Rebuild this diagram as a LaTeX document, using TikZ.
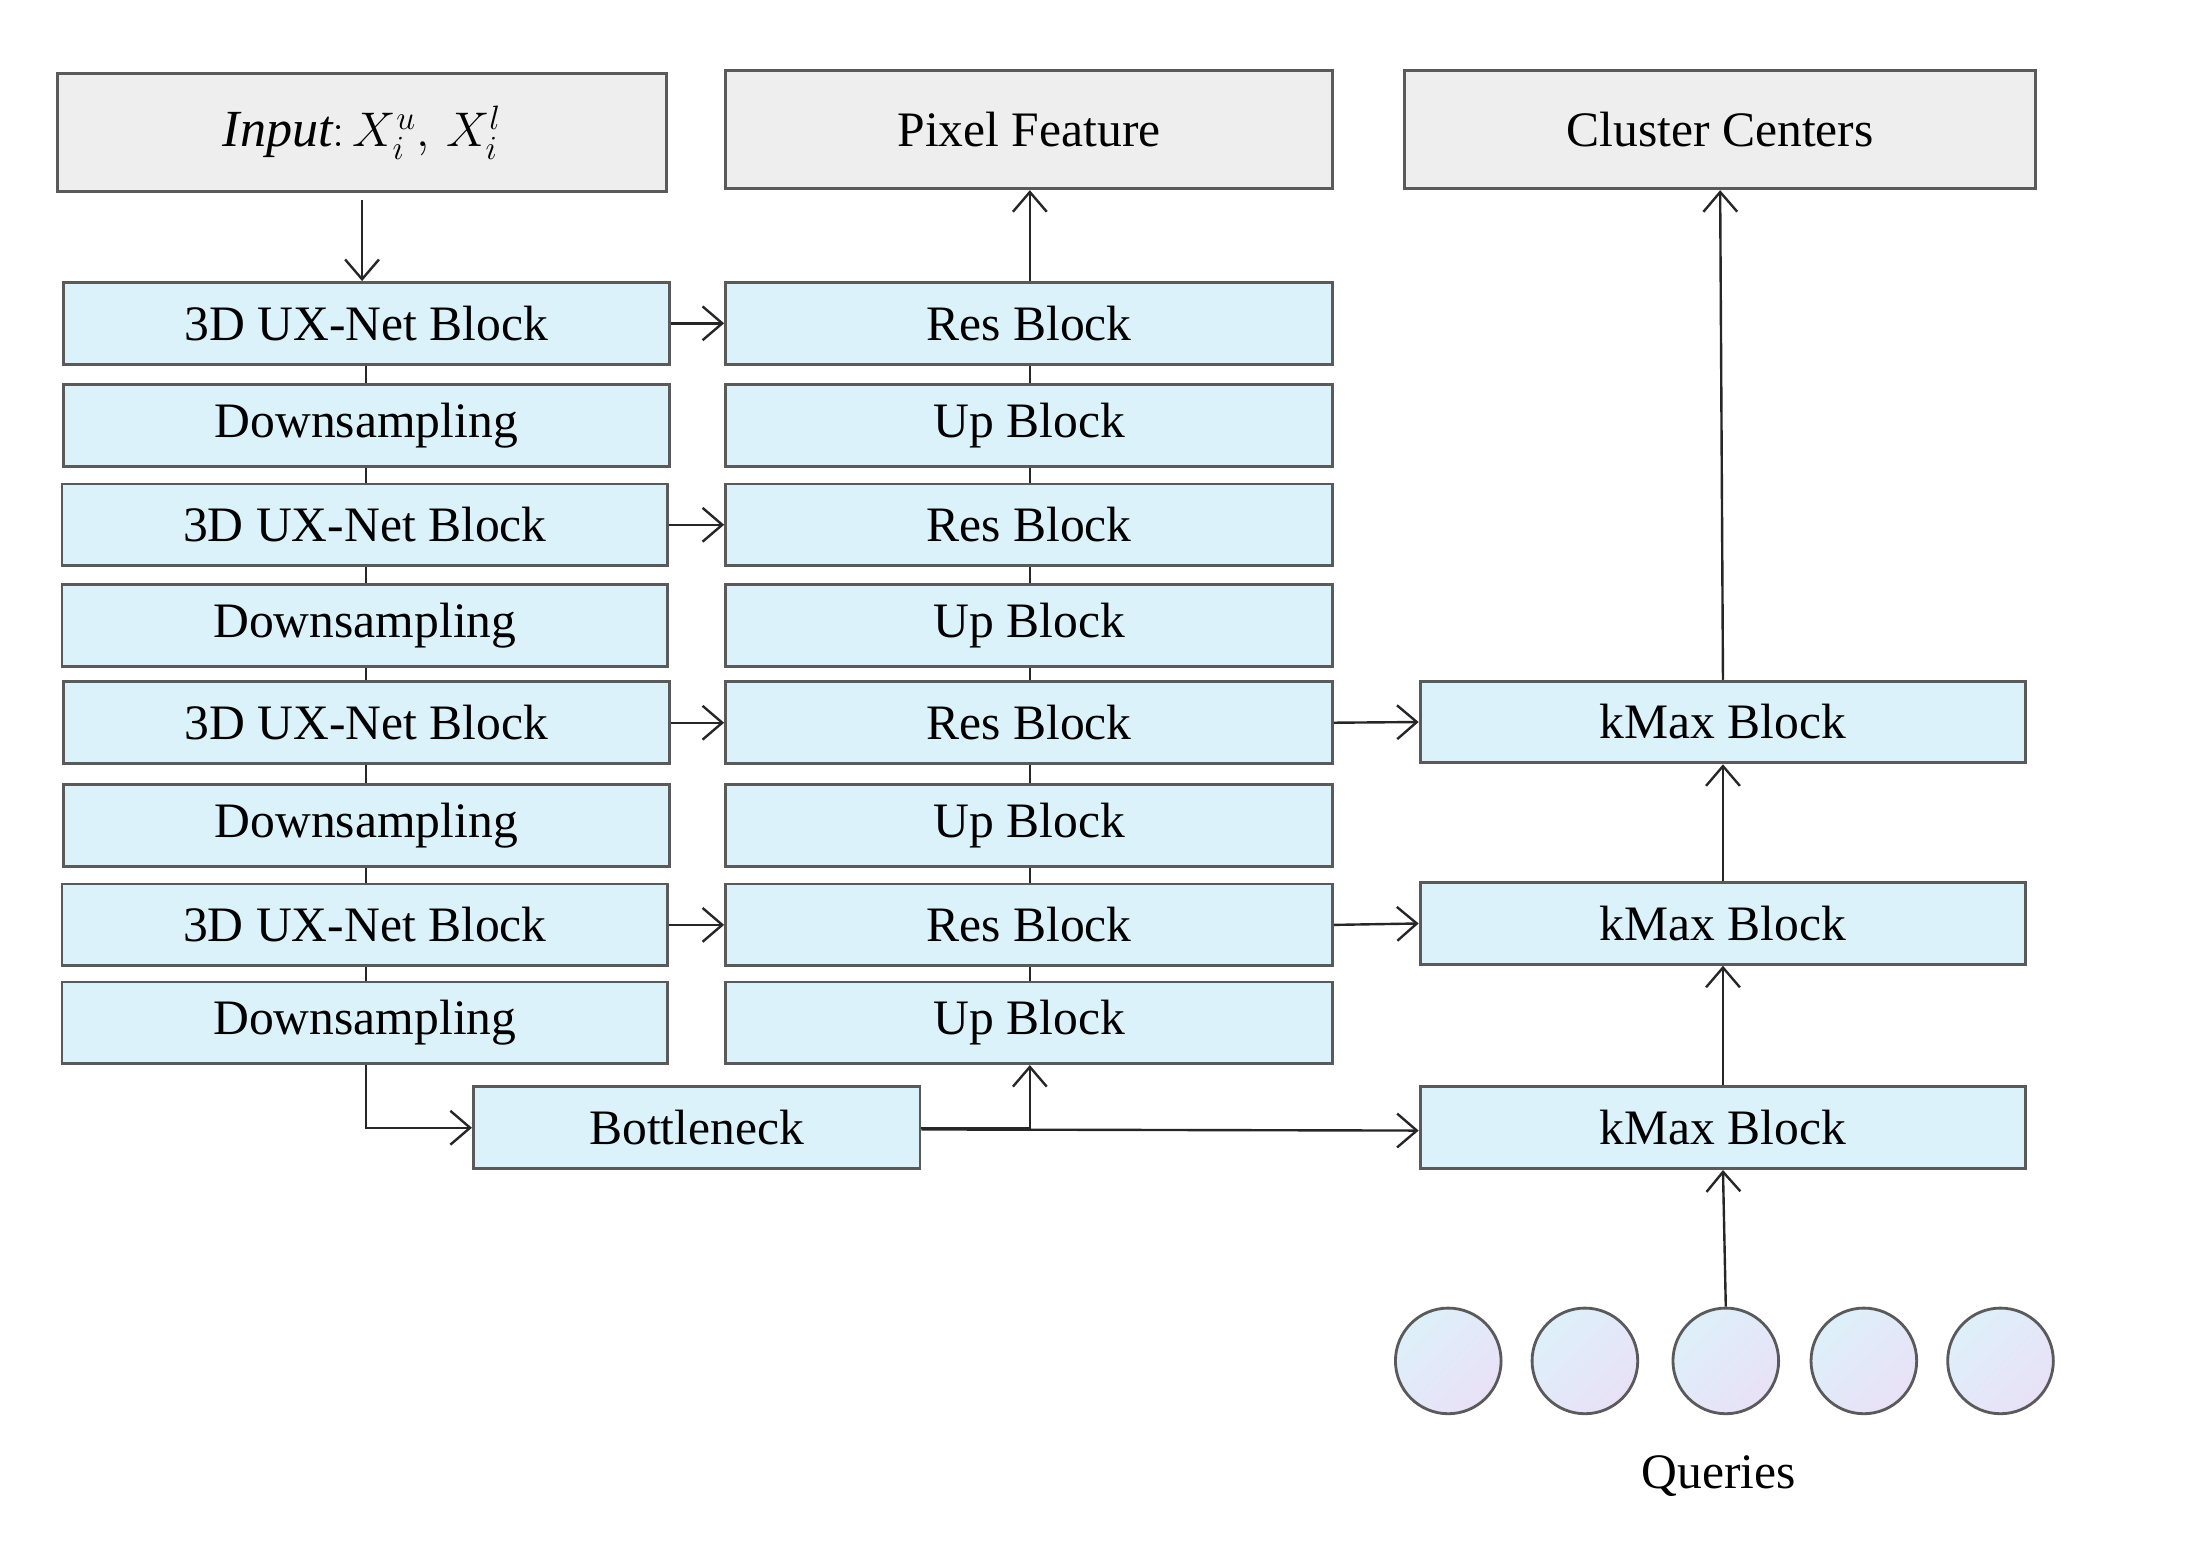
\documentclass[tikz,border=0pt]{standalone}
\usepackage{fontspec}
\setmainfont{Liberation Serif}
\usetikzlibrary{arrows.meta}
\definecolor{blk}{HTML}{DBF2FA}
\definecolor{gbox}{HTML}{EEEEEE}
\definecolor{edge}{HTML}{5A5A5A}
\definecolor{qtop}{HTML}{DDF0FA}
\definecolor{qbot}{HTML}{E9E1F6}
\tikzset{
  base/.style={draw=edge, line width=1pt, inner sep=0pt, anchor=center, font=\fontsize{17.6}{21}\selectfont},
  bluebox/.style={base, fill=blk, minimum width=215pt, minimum height=29pt},
  graybox/.style={base, fill=gbox, minimum height=42pt},
  query/.style={draw=edge, line width=1pt, circle, minimum size=37.5pt, inner sep=0pt, top color=qtop, bottom color=qbot, shading angle=45},
  conn/.style={line width=0.85pt, draw=black!85},
  arr/.style={conn, -{Straight Barb[length=7pt, width=12pt, line width=0.85pt]}},
}
\begin{document}
\begin{tikzpicture}[x=0.5pt, y=-0.5pt]
\useasboundingbox (0,0) rectangle (1568,1113);
% top boxes
\node[graybox, minimum width=216pt] (in) at (257,94) {\fontsize{18.5}{21}\selectfont$\mathit{Input}\colon X_i^u,\, X_i^l$};
\node[graybox, minimum width=215.5pt] (pf) at (730.5,92) {Pixel Feature};
\node[graybox, minimum width=224pt] (cc) at (1221,92) {Cluster Centers};
% encoder
\node[bluebox] (e1) at (260,229.5) {3D UX-Net Block};
\node[bluebox] (d1) at (260,302) {Downsampling};
\node[bluebox] (e2) at (259,372.5) {3D UX-Net Block};
\node[bluebox] (d2) at (259,444) {Downsampling};
\node[bluebox] (e3) at (260,513) {3D UX-Net Block};
\node[bluebox] (d3) at (260,586) {Downsampling};
\node[bluebox] (e4) at (259,656.5) {3D UX-Net Block};
\node[bluebox] (d4) at (259,726) {Downsampling};
% decoder
\node[bluebox, minimum width=215.5pt] (r1) at (730.5,229.5) {Res Block};
\node[bluebox, minimum width=215.5pt] (u1) at (730.5,302) {Up Block};
\node[bluebox, minimum width=215.5pt] (r2) at (730.5,372.5) {Res Block};
\node[bluebox, minimum width=215.5pt] (u2) at (730.5,444) {Up Block};
\node[bluebox, minimum width=215.5pt] (r3) at (730.5,513) {Res Block};
\node[bluebox, minimum width=215.5pt] (u3) at (730.5,586) {Up Block};
\node[bluebox, minimum width=215.5pt] (r4) at (730.5,656.5) {Res Block};
\node[bluebox, minimum width=215.5pt] (u4) at (730.5,726) {Up Block};
% bottleneck
\node[bluebox, minimum width=158.5pt] (bn) at (494.5,800.5) {Bottleneck};
% kMax
\node[bluebox] (k1) at (1223,512.5) {kMax Block};
\node[bluebox] (k2) at (1223,655.5) {kMax Block};
\node[bluebox] (k3) at (1223,800.5) {kMax Block};
% queries
\node[query] (q1) at (1028,966) {};
\node[query] (q2) at (1125,966) {};
\node[query] (q3) at (1225,966) {};
\node[query] (q4) at (1323,966) {};
\node[query] (q5) at (1420,966) {};
\node[font=\fontsize{17.6}{21}\selectfont] (ql) at (1220,1048) {Queries};
% vertical links
\foreach \a/\b in {e1/d1,d1/e2,e2/d2,d2/e3,e3/d3,d3/e4,e4/d4}
  \draw[conn] (260,0 |- \a.south) -- (260,0 |- \b.north);
\foreach \a/\b in {r1/u1,u1/r2,r2/u2,u2/r3,r3/u3,u3/r4,r4/u4}
  \draw[conn] (731,0 |- \a.south) -- (731,0 |- \b.north);
% arrows
\draw[arr] ([yshift=-2.5pt]in.south) -- (e1.north -| in.south);
\foreach \a/\b in {e1/r1,e2/r2,e3/r3,e4/r4}
  \draw[arr] (\a.east) -- (\b.west);
\draw[arr] (r1.north -| 731,0) -- (pf.south -| 731,0);
\draw[arr] (r3.east) -- (k1.west);
\draw[arr] (r4.east) -- (k2.west);
\draw[arr] (k3.north) -- (k2.south);
\draw[arr] (k2.north) -- (k1.south);
\draw[arr] (k1.north) -- (cc.south);
\draw[arr] (q3.north) -- (k3.south);
\draw[arr] (260,0 |- d4.south) |- (bn.west);
\draw[arr] (bn.east) -| (731,0 |- u4.south);
\draw[arr] ([yshift=-0.6pt]bn.east) -- ([yshift=-1pt]k3.west);
\end{tikzpicture}
\end{document}
